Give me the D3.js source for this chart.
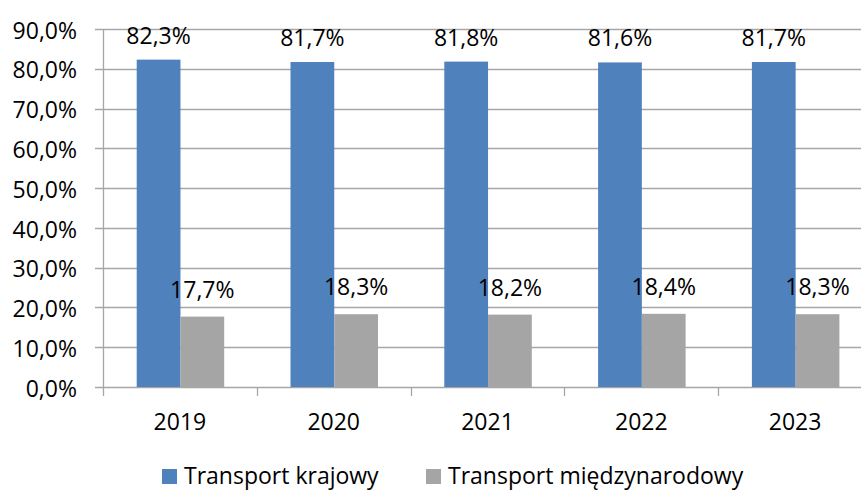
<!DOCTYPE html>
<html>
<head>
<meta charset="utf-8">
<script src="https://cdn.jsdelivr.net/npm/d3@7"></script>
<style>
  body { margin: 0; background: #fff; }
  svg text { font-family: 'Open Sans', 'Noto Sans', sans-serif; fill: #000; }
</style>
</head>
<body>
<div id="chart"></div>
<script>
const years = ['2019', '2020', '2021', '2022', '2023'];
const seriesNames = ['Transport krajowy', 'Transport międzynarodowy'];
const krajowy = [82.3, 81.7, 81.8, 81.6, 81.7];
const miedzynarodowy = [17.7, 18.3, 18.2, 18.4, 18.3];
const yTicks = [0, 10, 20, 30, 40, 50, 60, 70, 80, 90];
const colors = ['#4F81BD', '#A5A5A5'];

const width = 861;
const height = 491;
const margin = { top: 29, right: -11, bottom: 104, left: 103 };
const plotW = width - margin.left - margin.right;
const plotH = height - margin.top - margin.bottom;
const fontSize = '23px';

const fmt = v => v.toFixed(1).replace('.', ',') + '%';

const svg = d3.select('#chart')
  .append('svg')
  .attr('width', width)
  .attr('height', height);

const g = svg.append('g')
  .attr('transform', `translate(${margin.left},${margin.top})`);

const x = d3.scaleBand()
  .domain(years)
  .range([0, plotW]);

const y = d3.scaleLinear()
  .domain([0, 90])
  .range([plotH, 0]);

// gridlines
g.append('g')
  .selectAll('line')
  .data(yTicks)
  .enter().append('line')
  .attr('x1', -8)
  .attr('x2', plotW)
  .attr('y1', d => Math.round(y(d)) + 0.5)
  .attr('y2', d => Math.round(y(d)) + 0.5)
  .attr('stroke', '#A6A6A6')
  .attr('stroke-width', 1.3);

// y axis
const yAxis = g.append('g')
  .call(d3.axisLeft(y).tickValues(yTicks).tickFormat(fmt).tickSize(0).tickPadding(26));
yAxis.select('.domain').remove();
yAxis.selectAll('text')
  .style('font-size', fontSize)
  .attr('dy', '0.4em');

g.append('line')
  .attr('x1', 0.5).attr('x2', 0.5)
  .attr('y1', 0).attr('y2', plotH + 9)
  .attr('stroke', '#A6A6A6')
  .attr('stroke-width', 1.3);

// category separators
g.append('g')
  .selectAll('line')
  .data(years.slice(1))
  .enter().append('line')
  .attr('x1', d => Math.round(x(d)) + 0.5)
  .attr('x2', d => Math.round(x(d)) + 0.5)
  .attr('y1', plotH)
  .attr('y2', plotH + 9)
  .attr('stroke', '#A6A6A6')
  .attr('stroke-width', 1.3);

// x labels
g.append('g')
  .selectAll('text')
  .data(years)
  .enter().append('text')
  .attr('x', d => x(d) + x.bandwidth() / 2)
  .attr('y', plotH + 43)
  .attr('text-anchor', 'middle')
  .style('font-size', fontSize)
  .text(d => d);

const x1 = d3.scaleBand()
  .domain([0, 1])
  .range([33.7, 33.7 + 87.5]);

const series = [krajowy, miedzynarodowy];
const labelGap = [16, 19];

series.forEach((vals, si) => {
  const sg = g.append('g');
  sg.selectAll('rect')
    .data(vals)
    .enter().append('rect')
    .attr('x', (d, i) => x(years[i]) + x1(si))
    .attr('y', d => y(d))
    .attr('width', x1.bandwidth())
    .attr('height', d => plotH - y(d))
    .attr('fill', colors[si]);

  sg.selectAll('text')
    .data(vals)
    .enter().append('text')
    .attr('x', (d, i) => x(years[i]) + x1(si) + x1.bandwidth() / 2)
    .attr('y', d => y(d) - labelGap[si])
    .attr('text-anchor', 'middle')
    .style('font-size', fontSize)
    .text(fmt);
});

// legend
const legendX = [162, 426];
const legend = svg.append('g');
seriesNames.forEach((name, i) => {
  legend.append('rect')
    .attr('x', legendX[i])
    .attr('y', 469)
    .attr('width', 15)
    .attr('height', 15)
    .attr('fill', colors[i]);
  legend.append('text')
    .attr('x', legendX[i] + 22)
    .attr('y', 484)
    .style('font-size', fontSize)
    .text(name);
});
</script>
</body>
</html>
